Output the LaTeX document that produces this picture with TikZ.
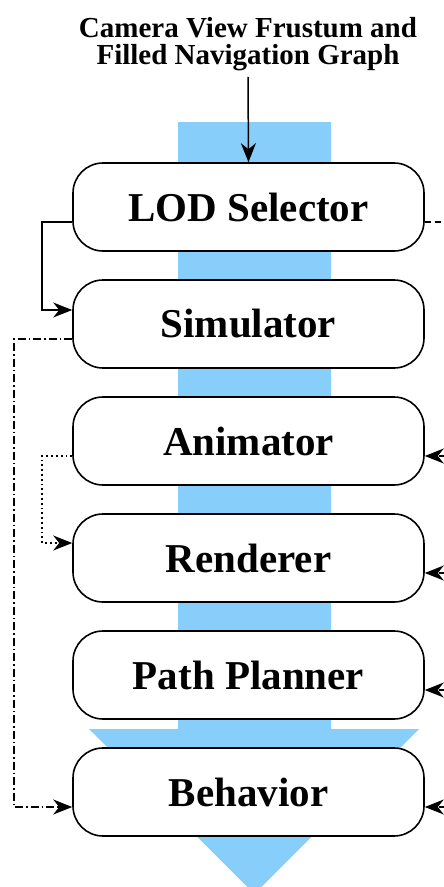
\documentclass[tikz,border=0pt]{standalone}
\usepackage{fontspec}
\setmainfont{Liberation Serif}
\usetikzlibrary{positioning,arrows.meta}
\definecolor{flowblue}{RGB}{135,206,250}
\begin{document}
\begin{tikzpicture}[x=1pt, y=-1pt, node distance=27.4pt,
			stage/.style={rectangle, draw, line width=1.6pt, rounded corners=30pt, fill=white, minimum width=351pt, minimum height=88pt, inner sep=0pt, font=\fontsize{41}{44}\selectfont\bfseries},
			arrow/.style={-{Stealth[length=19pt,width=15pt,inset=6pt]}, line width=1.5pt}]

			\useasboundingbox (0,0) rectangle (444,887);

			% the flow band behind the stages
			\fill[flowblue] (178,122) -- (331,122) -- (331,729) -- (419,729) -- (254.5,894) -- (89,729) -- (178,729) -- cycle;

			\node[font=\fontsize{29}{27}\selectfont\bfseries, align=center, inner sep=2pt] (cam) at (248,44) {Camera View Frustum and\\Filled Navigation Graph};

			\node[stage] (lod) at (248.5,207) {LOD Selector};
			\node[stage, below=of lod] (sim) {Simulator};
			\node[stage, below=of sim] (ani) {Animator};
			\node[stage, below=of ani] (ren) {Renderer};
			\node[stage, below=of ren] (pp) {Path Planner};
			\node[stage, below=of pp] (beh) {Behavior};

			\draw[arrow] ([yshift=-4pt]cam.south) -- (lod.north);
			\draw[arrow] ([yshift=-15pt]lod.west) -- ++(-30,0) |- ([yshift=14pt]sim.west);
			\draw[arrow, dash pattern=on 8pt off 3pt on 1.5pt off 3pt] ([yshift=-15pt]sim.west) -- ++(-58,0) |- ([yshift=-15pt]beh.west);
			\draw[arrow, dash pattern=on 1.8pt off 3pt] ([yshift=-15pt]ani.west) -- ++(-30,0) |- ([yshift=15pt]ren.west);
			\draw[dash pattern=on 6pt off 4pt, line width=1.5pt] ([yshift=-15pt]lod.east) -- ++(30,0);
			\foreach \n in {ani,ren,pp,beh}
				\draw[arrow, dash pattern=on 6pt off 4pt] ([yshift=-15pt]\n.east) ++(30,0) -- ([yshift=-15pt]\n.east);
		\end{tikzpicture}
\end{document}
